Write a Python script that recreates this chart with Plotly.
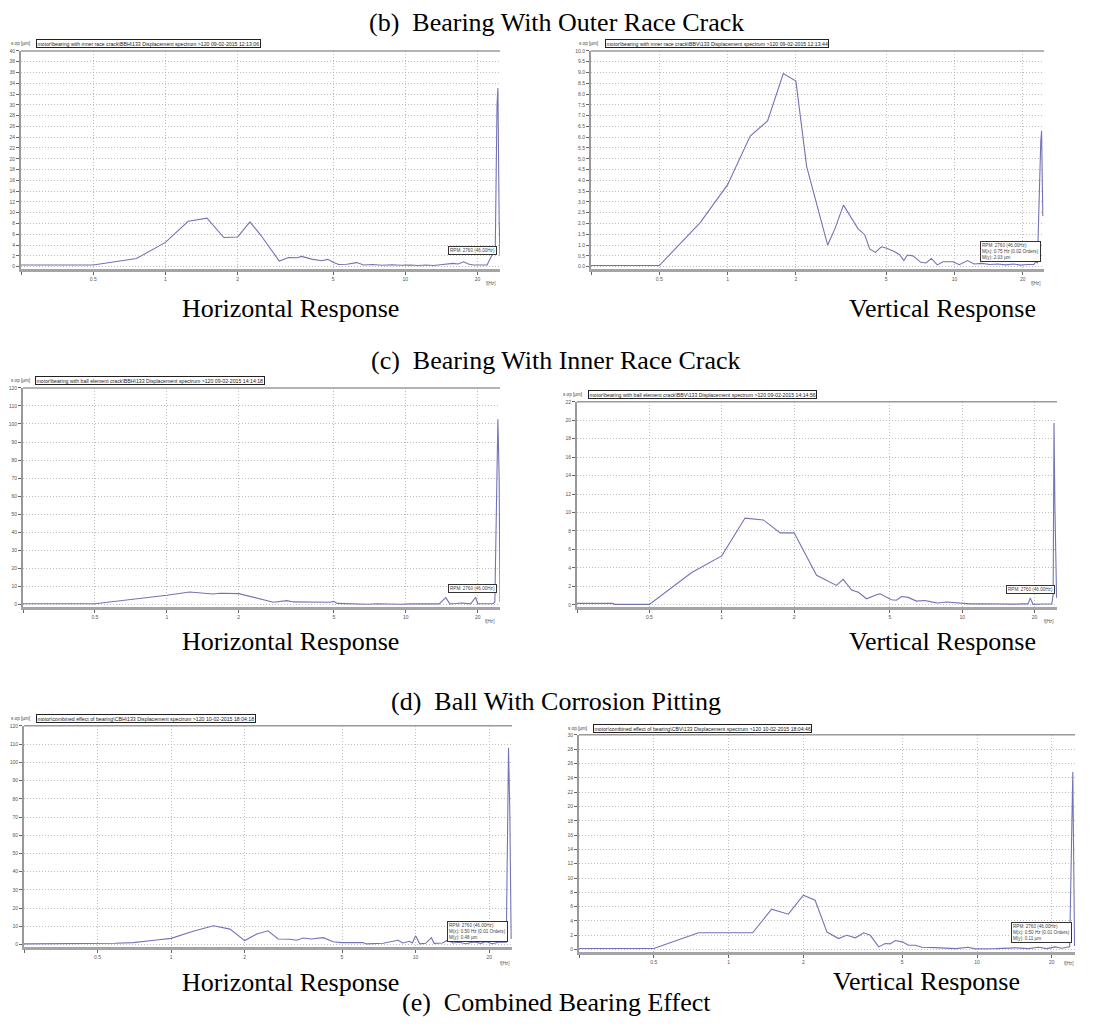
import math
import plotly.graph_objects as go

# ---------------- data ----------------
# (b) outer race crack, horizontal
f_outer_h = [0.25, 0.5, 0.757, 1.0, 1.244, 1.49, 1.75, 2.0, 2.25, 2.48, 2.98, 3.26, 3.53, 3.7, 4.07,
             4.48, 4.75, 5.0, 5.27, 5.7, 6.27, 6.7, 7.3, 8.0, 8.8, 9.6, 10.5, 11.3, 12.2, 13.1, 14.0,
             14.9, 15.8, 16.6, 17.5, 18.3, 19.2, 20.5, 21.9, 22.7, 23.7, 24.1, 24.3, 24.6, 24.8]
a_outer_h = [0.3, 0.3, 1.5, 4.5, 8.4, 9.0, 5.4, 5.5, 8.3, 6.0, 1.05, 1.7, 1.65, 1.9, 1.4,
             1.1, 1.35, 0.8, 0.4, 0.45, 0.75, 0.3, 0.4, 0.25, 0.35, 0.25, 0.3, 0.2, 0.3, 0.2, 0.35,
             0.5, 0.6, 0.5, 0.9, 0.5, 0.3, 0.3, 0.3, 1.7, 3.3, 30.0, 33.1, 8.8, 2.0]

# (b) outer race crack, vertical
f_outer_v = [0.25, 0.5, 0.759, 1.0, 1.258, 1.50, 1.76, 2.0, 2.23, 2.76, 2.97, 3.24, 3.76, 4.02, 4.23,
             4.48, 4.76, 5.0, 5.45, 5.73, 5.98, 6.2, 6.56, 7.1, 7.5, 7.9, 8.4, 8.9, 9.85, 10.5, 11.4,
             12.2, 13.2, 14.3, 15.5, 16.8, 18.2, 19.6, 21.0, 22.4, 22.8, 23.2, 24.0, 24.2, 24.5]
a_outer_v = [0.05, 0.05, 2.05, 3.8, 6.05, 6.75, 8.95, 8.6, 4.65, 1.0, 1.75, 2.85, 1.75, 1.48, 0.82,
             0.66, 0.92, 0.86, 0.69, 0.55, 0.28, 0.54, 0.5, 0.2, 0.17, 0.38, 0.08, 0.23, 0.23, 0.09, 0.28,
             0.12, 0.15, 0.1, 0.12, 0.08, 0.12, 0.07, 0.1, 0.1, 0.23, 0.17, 5.8, 6.3, 2.35]

# (c) inner race crack, horizontal
f_inner_h = [0.25, 0.5, 1.0, 1.246, 1.56, 1.67, 2.0, 2.3, 2.79, 3.18, 3.39, 4.83, 5.0, 5.16, 5.6,
             6.0, 6.9, 7.6, 8.3, 9.5, 10.5, 11.5, 12.6, 13.8, 14.7, 15.3, 16.2, 17.1, 18.7, 19.6,
             20.0, 21.5, 23.2, 23.6, 24.2, 24.3, 24.6, 24.8]
a_inner_h = [0.5, 0.5, 5.2, 7.0, 5.9, 6.3, 6.1, 4.2, 1.3, 2.2, 1.5, 1.3, 1.8, 0.7, 0.5,
             0.6, 0.2, 0.5, 0.3, 0.2, 0.4, 0.3, 0.5, 0.4, 3.9, 0.4, 0.6, 0.9, 0.4, 4.1,
             0.5, 0.5, 0.5, 1.5, 90.0, 102.6, 70.0, 1.5]

# (c) inner race crack, vertical
f_inner_v = [0.25, 0.35, 0.36, 0.5, 0.75, 1.0, 1.25, 1.49, 1.75, 2.0, 2.48, 3.0, 3.2, 3.47, 3.7,
             4.0, 4.4, 4.55, 5.08, 5.33, 5.6, 5.96, 6.45, 7.0, 7.45, 7.9, 8.6, 9.8, 10.8, 12.0,
             13.5, 15.0, 16.5, 18.0, 18.8, 19.2, 19.7, 21.5, 23.6, 23.9, 24.1, 24.3, 24.7]
a_inner_v = [0.15, 0.15, 0.05, 0.05, 3.5, 5.3, 9.4, 9.2, 7.8, 7.8, 3.2, 2.1, 2.75, 1.6, 1.35,
             0.65, 1.1, 1.2, 0.55, 0.5, 0.9, 0.8, 0.4, 0.47, 0.32, 0.2, 0.3, 0.15, 0.1, 0.12,
             0.08, 0.1, 0.07, 0.1, 0.1, 0.75, 0.05, 0.08, 0.1, 1.1, 19.7, 10.9, 0.75]

# (d) ball corrosion pitting, horizontal
f_ball_h = [0.25, 0.564, 0.59, 0.70, 0.77, 0.87, 1.0, 1.23, 1.49, 1.74, 2.0, 2.24, 2.49, 2.74, 3.06,
            3.26, 3.47, 3.75, 4.19, 4.6, 4.97, 5.55, 6.1, 6.28, 7.37, 8.47, 8.87, 9.43, 9.7, 10.0,
            10.4, 11.0, 11.6, 11.9, 12.9, 13.5, 14.2, 15.1, 16.0, 17.4, 18.5, 19.4, 20.6, 22.1,
            23.5, 24.0, 24.3, 24.6]
a_ball_h = [0.4, 0.4, 0.7, 1.1, 1.6, 2.5, 3.4, 7.3, 10.3, 8.5, 2.2, 5.8, 7.6, 3.1, 2.9,
            2.4, 3.6, 3.1, 3.8, 1.6, 1.1, 1.3, 1.1, 0.4, 0.7, 2.4, 0.9, 1.8, 0.9, 4.9,
            0.4, 0.7, 3.8, 0.7, 0.9, 2.4, 0.9, 1.3, 0.5, 1.5, 0.7, 1.6, 0.5, 1.5,
            1.3, 108.0, 72.0, 3.1]

# (d) ball corrosion pitting, vertical
f_ball_v = [0.25, 0.5, 0.757, 1.0, 1.25, 1.49, 1.74, 2.0, 2.23, 2.49, 2.77, 2.99, 3.24, 3.5, 3.72,
            4.02, 4.27, 4.47, 4.69, 5.0, 5.3, 5.65, 6.0, 6.8, 8.2, 9.2, 9.85, 11.9, 14.3, 16.1,
            17.7, 19.1, 20.6, 21.9, 23.6, 24.3, 24.5, 24.7]
a_ball_v = [0.15, 0.15, 2.35, 2.35, 2.35, 5.65, 4.95, 7.6, 6.9, 2.45, 1.55, 2.0, 1.65, 2.35, 2.0,
            0.38, 0.85, 0.8, 1.27, 1.08, 0.61, 0.61, 0.33, 0.28, 0.14, 0.33, 0.1, 0.14, 0.25, 0.14,
            0.33, 0.14, 0.38, 0.19, 0.38, 24.8, 14.0, 0.5]

x_tick_vals = [0.25, 0.5, 1, 2, 5, 10, 20]
x_tick_text = ["", "0.5", "1", "2", "5", "10", "20"]
y_max_values = [40, 10, 120, 22, 120, 30]
y_steps = [2, 0.5, 10, 2, 10, 2]

headers = [
    "motor\\bearing with inner race crack\\BBH\\133 Displacement spectrum >120 09-02-2015 12:13:06",
    "motor\\bearing with inner race crack\\BBV\\133 Displacement spectrum >120 09-02-2015 12:13:44",
    "motor\\bearing with ball element crack\\BBH\\133 Displacement spectrum >120 09-02-2015 14:14:18",
    "motor\\bearing with ball element crack\\BBV\\133 Displacement spectrum >120 09-02-2015 14:14:56",
    "motor\\combined effect of bearing\\CBH\\133 Displacement spectrum >120 10-02-2015 18:04:18",
    "motor\\combined effect of bearing\\CBV\\133 Displacement spectrum >120 10-02-2015 18:04:46",
]
notes = [
    ["RPM: 2760 (46.00Hz)"],
    ["RPM: 2760 (46.00Hz)", "M(x): 0.75 Hz (0.02 Orders)", "M(y): 2.03 µm"],
    ["RPM: 2760 (46.00Hz)"],
    ["RPM: 2760 (46.00Hz)"],
    ["RPM: 2760 (46.00Hz)", "M(x): 0.50 Hz (0.01 Orders)", "M(y): 0.48 µm"],
    ["RPM: 2760 (46.00Hz)", "M(x): 0.50 Hz (0.01 Orders)", "M(y): 0.11 µm"],
]
captions = ["(b)\u00a0\u00a0Bearing With Outer Race Crack", "(c)\u00a0\u00a0Bearing With Inner Race Crack",
            "(d)\u00a0\u00a0Ball With Corrosion Pitting", "(e)\u00a0\u00a0Combined Bearing Effect"]
sub_captions = ["Horizontal Response", "Vertical Response"]
y_title = "s op [µm]"
x_title = "f[Hz]"

series = [(f_outer_h, a_outer_h), (f_outer_v, a_outer_v), (f_inner_h, a_inner_h),
          (f_inner_v, a_inner_v), (f_ball_h, a_ball_h), (f_ball_v, a_ball_v)]

# ---------------- layout geometry (pixels of the page) ----------------
FIG_W, FIG_H, OFF = 1096, 1012, 8


def px(x):
    return (x - OFF) / FIG_W


def py(y):
    return 1 - (y - OFF) / FIG_H


# plot boxes: left, top, right, bottom
boxes = [(21, 48, 500, 267), (591, 48, 1044, 267), (23, 386, 500, 606),
         (577, 400, 1057, 606), (24, 725, 512, 947), (579, 734, 1075, 952)]
header_pos = [(36, 41), (605, 41), (35, 379), (588, 393), (36, 718), (593, 728)]
ylabel_pos = [(9, 41), (577, 41), (9, 379), (561, 393), (9, 718), (566, 728)]
note_pos = [(497, 253), (1041, 260), (497, 592), (1055, 593), (508, 942), (1072, 943)]
fhz_pos = [(490, 281), (1035, 281), (489, 620), (1048, 620), (504, 963), (1068, 963)]
# caption anchors: (x centre, y, vertical anchor)
caption_pos = [(556, 20, "middle"), (556, 359, "middle"), (556, 701, "middle"), (556, 1019, "bottom")]
sub_pos = [[(290, 306), (942, 306)], [(290, 640), (942, 640)], [(290, 982), (926, 981)]]

LINE_COLOR = "#7373b6"
GRID_COLOR = "#bdbdbd"
TICK_FONT = dict(family="Arial", size=5, color="#555555")

fig = go.Figure()
layout = dict(width=FIG_W, height=FIG_H, margin=dict(l=0, r=0, t=0, b=0),
              paper_bgcolor="white", plot_bgcolor="white", showlegend=False)
annotations = []
shapes = []
xr = [math.log10(0.25), math.log10(24.8)]

for i, ((f, a), box) in enumerate(zip(series, boxes)):
    k = i + 1
    xa = "x" if k == 1 else f"x{k}"
    ya = "y" if k == 1 else f"y{k}"
    fig.add_trace(go.Scatter(x=f, y=a, mode="lines", line=dict(color=LINE_COLOR, width=1.1),
                             xaxis=xa, yaxis=ya, hoverinfo="skip"))
    x0, y0, x1, y1 = box
    ymax = y_max_values[i]
    ymin = -0.012 * ymax
    layout["xaxis" if k == 1 else f"xaxis{k}"] = dict(
        type="log", range=xr, domain=[px(x0), px(x1)], anchor=ya,
        tickvals=x_tick_vals, ticktext=x_tick_text, tickfont=TICK_FONT,
        showgrid=True, gridcolor=GRID_COLOR, griddash="1px,2px", gridwidth=1,
        ticks="outside", ticklen=3, tickcolor="#666666",
        showline=True, linecolor="#a5a5a5", linewidth=3, zeroline=False)
    layout["yaxis" if k == 1 else f"yaxis{k}"] = dict(
        range=[ymin, ymax], domain=[py(y1), py(y0)], anchor=xa,
        tick0=0, dtick=y_steps[i], tickformat=".1f" if y_steps[i] < 1 else "d",
        tickfont=TICK_FONT, showgrid=True, gridcolor=GRID_COLOR, griddash="1px,2px", gridwidth=1,
        ticks="outside", ticklen=3, tickcolor="#666666",
        showline=True, linecolor="#999999", linewidth=2, zeroline=False)
    # top frame line
    shapes.append(dict(type="line", xref="paper", yref="paper", x0=px(x0), x1=px(x1),
                       y0=py(y0), y1=py(y0), line=dict(color="#9a9a9a", width=1.5)))
    hx, hy = header_pos[i]
    annotations.append(dict(text=headers[i], x=px(hx), y=py(hy), xref="paper", yref="paper",
                            xanchor="left", yanchor="middle", showarrow=False,
                            font=dict(family="Arial", size=5.2, color="#222222"),
                            bordercolor="#222222", borderwidth=1, borderpad=0.5, bgcolor="white"))
    lx, ly = ylabel_pos[i]
    annotations.append(dict(text=y_title, x=px(lx), y=py(ly), xref="paper", yref="paper",
                            xanchor="left", yanchor="middle", showarrow=False,
                            font=dict(family="Arial", size=4.6, color="#444444")))
    nx, ny = note_pos[i]
    annotations.append(dict(text="<br>".join(notes[i]), x=px(nx), y=py(ny), xref="paper", yref="paper",
                            xanchor="right", yanchor="bottom", align="left", showarrow=False,
                            font=dict(family="Arial", size=4.6, color="#444444"),
                            bordercolor="#333333", borderwidth=1, borderpad=1, bgcolor="white"))
    fx, fy = fhz_pos[i]
    annotations.append(dict(text=x_title, x=px(fx), y=py(fy), xref="paper", yref="paper",
                            xanchor="center", yanchor="middle", showarrow=False,
                            font=dict(family="Arial", size=4.6, color="#555555")))

CAP_FONT = dict(family="Liberation Serif", size=26, color="black")
for text, (cx, cy, anc) in zip(captions, caption_pos):
    annotations.append(dict(text=text, x=px(cx), y=py(cy), xref="paper", yref="paper",
                            xanchor="center", yanchor=anc, showarrow=False, font=CAP_FONT))
for row in sub_pos:
    for text, (cx, cy) in zip(sub_captions, row):
        annotations.append(dict(text=text, x=px(cx), y=py(cy), xref="paper", yref="paper",
                                xanchor="center", yanchor="middle", showarrow=False, font=CAP_FONT))

layout["annotations"] = annotations
layout["shapes"] = shapes
fig.update_layout(**layout)
fig.write_html("out.html")
